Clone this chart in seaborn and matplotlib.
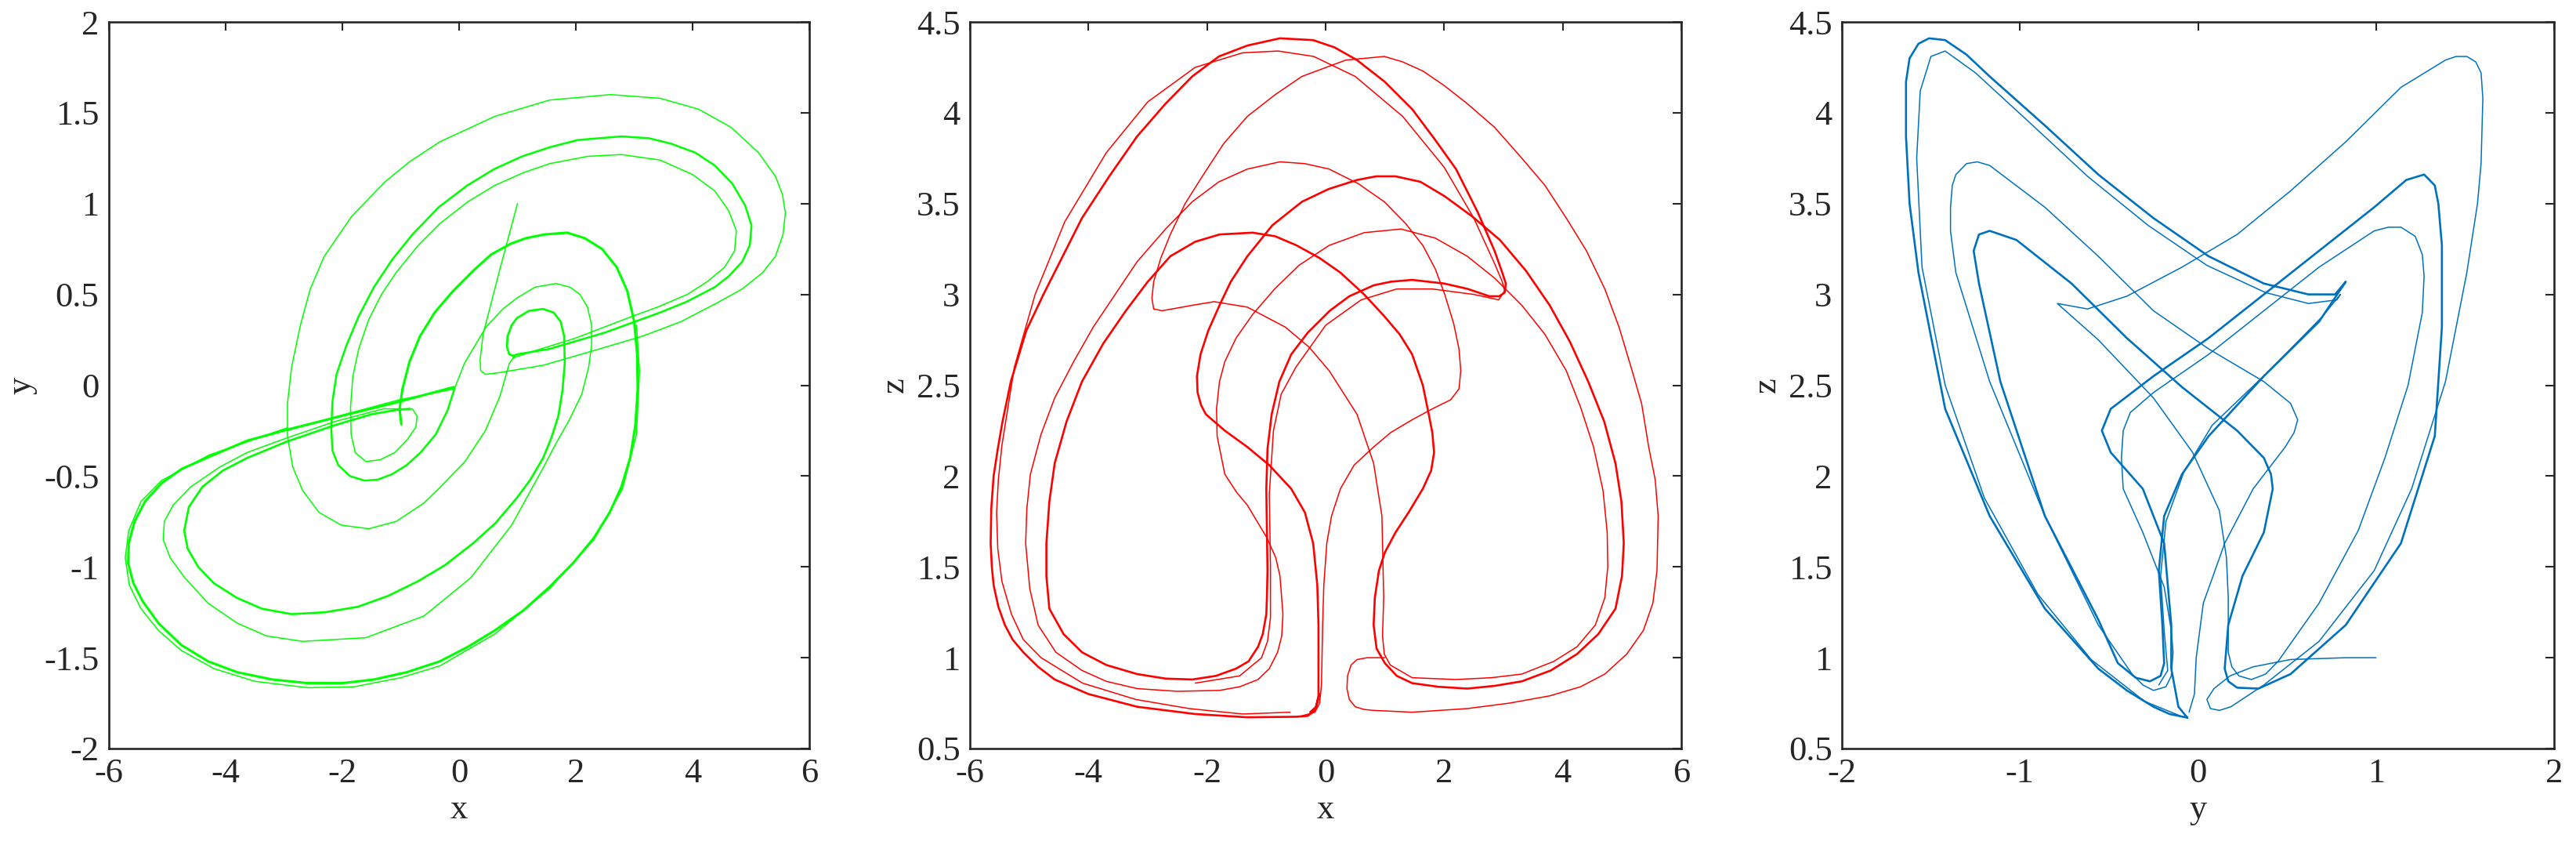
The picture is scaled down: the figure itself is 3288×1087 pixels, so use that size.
import matplotlib
matplotlib.use("Agg")
import matplotlib.pyplot as plt
import seaborn as sns
import pandas as pd


# ---- x-y projection (green) ----
XY_START = [
    (1.00, 1.00), (0.70, 0.64), (0.41, 0.28), (0.36, 0.14), (0.37, 0.08),
    (0.45, 0.06), (0.70, 0.07), (1.44, 0.11), (2.30, 0.19), (3.14, 0.27),
    (3.80, 0.35), (4.40, 0.45), (4.85, 0.53), (5.20, 0.62), (5.42, 0.71),
    (5.55, 0.83), (5.59, 0.95), (5.54, 1.05), (5.42, 1.15), (5.13, 1.28),
    (4.66, 1.42), (4.10, 1.52), (3.44, 1.58), (2.59, 1.60), (1.55, 1.57),
    (0.61, 1.48), (-0.33, 1.34), (-0.85, 1.23), (-1.27, 1.12), (-1.84, 0.93),
    (-2.31, 0.71), (-2.55, 0.53), (-2.72, 0.33), (-2.87, 0.10), (-2.94, -0.10),
    (-2.94, -0.28), (-2.85, -0.45), (-2.68, -0.58), (-2.40, -0.70), (-2.02, -0.77),
    (-1.55, -0.79), (-1.08, -0.75), (-0.61, -0.65), (-0.35, -0.57), (0.10, -0.42),
    (0.45, -0.25), (0.70, -0.06), (0.86, 0.12), (0.95, 0.16),
]
XY_RING = [
    (-2.95, -0.25), (-2.13, -0.175), (-1.02, -0.08), (-0.08, -0.02), (0.09, 0.12),
    (0.46, 0.32), (0.75, 0.42), (0.99, 0.48), (1.30, 0.54), (1.66, 0.56),
    (1.90, 0.54), (2.07, 0.50), (2.20, 0.43), (2.27, 0.33), (2.27, 0.22),
    (2.22, 0.10), (2.10, -0.05), (1.89, -0.19), (1.66, -0.32), (1.44, -0.455),
    (0.90, -0.77), (0.20, -1.06), (-0.60, -1.27), (-1.60, -1.39), (-2.68, -1.41),
    (-3.30, -1.38), (-3.80, -1.31), (-4.30, -1.20), (-4.70, -1.06), (-4.95, -0.95),
    (-5.07, -0.85), (-5.05, -0.75), (-4.90, -0.66), (-4.60, -0.56), (-4.10, -0.45),
    (-3.63, -0.37), (-2.95, -0.29), (-2.13, -0.20), (-1.30, -0.13), (-0.95, -0.13),
    (-0.80, -0.13), (-0.72, -0.17), (-0.74, -0.23), (-0.89, -0.30), (-1.10, -0.37),
    (-1.35, -0.41), (-1.60, -0.42), (-1.78, -0.37), (-1.85, -0.27), (-1.86, -0.12),
    (-1.82, 0.05), (-1.72, 0.20), (-1.55, 0.36), (-1.33, 0.50), (-1.08, 0.62),
    (-0.70, 0.77), (-0.33, 0.89), (0.15, 1.01), (0.61, 1.10), (1.10, 1.17),
    (1.55, 1.22), (2.20, 1.26), (2.78, 1.27), (3.44, 1.24), (4.00, 1.16),
    (4.38, 1.07), (4.62, 0.96), (4.75, 0.85), (4.72, 0.74), (4.55, 0.65),
    (4.25, 0.57), (3.91, 0.50), (3.40, 0.43), (2.97, 0.38), (2.00, 0.26),
    (1.20, 0.18), (0.92, 0.15),
]
XY_MIDDLE = [
    (-0.08, -0.02), (-0.20, -0.14), (-0.40, -0.27), (-0.66, -0.37), (-0.90, -0.44),
    (-1.15, -0.49), (-1.40, -0.52), (-1.62, -0.525), (-1.87, -0.50), (-2.07, -0.44),
    (-2.17, -0.36), (-2.19, -0.24), (-2.17, -0.09), (-2.10, 0.06), (-1.93, 0.22),
    (-1.72, 0.38), (-1.46, 0.54), (-1.15, 0.69), (-0.80, 0.83), (-0.35, 0.98),
    (0.14, 1.10), (0.60, 1.19), (1.08, 1.26), (1.55, 1.31), (2.03, 1.35),
    (2.78, 1.37), (3.25, 1.36), (3.63, 1.33), (4.05, 1.28), (4.38, 1.21),
    (4.68, 1.11), (4.90, 0.99), (5.01, 0.88), (4.98, 0.77), (4.85, 0.68),
    (4.62, 0.60), (4.38, 0.54), (3.90, 0.46), (3.44, 0.40), (2.50, 0.29),
    (1.55, 0.20), (0.99, 0.17), (0.92, 0.16),
]
XY_OUTER = [
    (-0.09, -0.01), (-1.08, -0.095), (-1.84, -0.155), (-2.95, -0.245), (-3.63, -0.305),
    (-4.29, -0.395), (-4.75, -0.46), (-5.10, -0.54), (-5.38, -0.64), (-5.56, -0.75),
    (-5.66, -0.87), (-5.67, -0.98), (-5.58, -1.09), (-5.42, -1.19), (-5.15, -1.31),
    (-4.76, -1.43), (-4.30, -1.52), (-3.80, -1.58), (-3.20, -1.62), (-2.59, -1.64),
    (-2.00, -1.64), (-1.46, -1.62), (-0.90, -1.58), (-0.33, -1.52), (0.15, -1.44),
    (0.61, -1.35), (1.10, -1.24), (1.55, -1.11), (1.95, -0.98), (2.31, -0.84),
    (2.58, -0.70), (2.78, -0.56), (2.93, -0.40), (3.02, -0.22), (3.06, -0.02),
    (3.05, 0.17), (3.00, 0.35), (2.88, 0.52), (2.70, 0.65), (2.45, 0.75),
    (2.15, 0.81), (1.85, 0.84), (1.46, 0.83), (1.15, 0.81), (0.89, 0.78),
    (0.55, 0.72), (0.24, 0.63), (-0.10, 0.52), (-0.42, 0.40), (-0.67, 0.27),
    (-0.85, 0.13), (-0.97, -0.02), (-1.02, -0.13), (-0.99, -0.215),
]
XY_OUTER_EDGE = [
    (-2.95, -0.235), (-4.29, -0.385), (-5.10, -0.525), (-5.45, -0.64), (-5.66, -0.80),
    (-5.72, -0.95), (-5.65, -1.10), (-5.45, -1.23), (-5.15, -1.35), (-4.76, -1.46),
    (-4.20, -1.56), (-3.50, -1.63), (-2.59, -1.665), (-1.80, -1.66), (-1.00, -1.61),
    (-0.33, -1.545), (0.61, -1.37), (1.55, -1.12), (2.31, -0.85), (2.80, -0.57),
    (3.04, -0.27), (3.09, 0.08), (3.04, 0.33),
]
XY_INNER = [
    (0.95, 0.16), (0.86, 0.17), (0.82, 0.21), (0.83, 0.27), (0.90, 0.33),
    (0.99, 0.37), (1.20, 0.41), (1.44, 0.42), (1.62, 0.40), (1.74, 0.35),
    (1.80, 0.27), (1.81, 0.12), (1.77, -0.03), (1.70, -0.17), (1.58, -0.29),
    (1.44, -0.40), (1.22, -0.52), (0.99, -0.62), (0.62, -0.76), (0.24, -0.87),
    (-0.24, -0.99), (-0.71, -1.08), (-1.22, -1.16), (-1.74, -1.22), (-2.30, -1.25),
    (-2.87, -1.26), (-3.38, -1.23), (-3.81, -1.17), (-4.20, -1.09), (-4.47, -1.00),
    (-4.65, -0.90), (-4.71, -0.80), (-4.63, -0.67), (-4.40, -0.56), (-4.05, -0.47),
    (-3.63, -0.40), (-2.95, -0.31), (-2.13, -0.22), (-1.50, -0.16), (-1.06, -0.135),
    (-0.84, -0.13),
]

# ---- x-z projection (red) ----
XZ_START = [
    (1.00, 1.00), (0.90, 1.00), (0.70, 1.00), (0.53, 0.99), (0.43, 0.96),
    (0.37, 0.90), (0.36, 0.83), (0.40, 0.77), (0.50, 0.73), (0.65, 0.715),
    (0.81, 0.71), (1.46, 0.70), (2.39, 0.72), (3.10, 0.75), (3.78, 0.79),
    (4.30, 0.84), (4.71, 0.91), (5.08, 1.02), (5.36, 1.15), (5.52, 1.30),
    (5.59, 1.48), (5.61, 1.78), (5.56, 1.98), (5.45, 2.16), (5.33, 2.40),
    (5.17, 2.58), (4.95, 2.82), (4.71, 3.03), (4.40, 3.24), (4.06, 3.42),
    (3.70, 3.60), (3.31, 3.75), (2.85, 3.92), (2.39, 4.05), (2.00, 4.15),
    (1.64, 4.23), (1.30, 4.28), (0.99, 4.31), (0.34, 4.29), (-0.40, 4.20),
    (-0.85, 4.10), (-1.32, 3.98), (-1.72, 3.83), (-2.06, 3.66), (-2.37, 3.50),
    (-2.62, 3.33), (-2.78, 3.20), (-2.90, 3.07), (-2.93, 2.98), (-2.90, 2.92),
    (-2.76, 2.91), (-2.25, 2.94), (-1.88, 2.96), (-1.32, 2.93), (-0.68, 2.82),
    (-0.28, 2.71), (0.06, 2.58), (0.53, 2.34), (0.81, 2.07), (0.95, 1.78),
    (0.98, 1.33), (0.96, 1.12), (0.99, 1.02), (1.09, 0.96), (1.46, 0.89),
    (2.20, 0.88), (2.80, 0.89), (3.31, 0.91), (3.85, 0.98), (4.24, 1.06),
    (4.55, 1.18), (4.71, 1.33), (4.76, 1.50), (4.75, 1.69), (4.68, 1.92),
    (4.52, 2.16), (4.30, 2.38), (4.06, 2.58), (3.70, 2.78), (3.31, 2.94),
    (2.85, 3.09), (2.39, 3.21), (1.85, 3.31), (1.27, 3.36), (0.65, 3.34),
    (0.06, 3.27), (-0.45, 3.16), (-0.86, 3.03), (-1.23, 2.89), (-1.51, 2.76),
    (-1.70, 2.63), (-1.79, 2.52), (-1.84, 2.37), (-1.83, 2.22), (-1.70, 2.01),
    (-1.50, 1.91), (-1.32, 1.84), (-0.99, 1.66), (-0.84, 1.55), (-0.77, 1.45),
    (-0.72, 1.24), (-0.74, 1.12), (-0.81, 1.03), (-0.95, 0.94), (-1.14, 0.88),
    (-1.45, 0.84), (-1.79, 0.82), (-2.50, 0.815), (-3.18, 0.83), (-3.70, 0.87),
    (-4.11, 0.93), (-4.55, 1.03), (-4.85, 1.18), (-4.99, 1.38), (-5.06, 1.63),
    (-5.04, 1.82), (-4.98, 2.01), (-4.80, 2.23), (-4.57, 2.43), (-4.25, 2.63),
    (-3.92, 2.82), (-3.55, 3.00), (-3.18, 3.18), (-2.70, 3.36), (-2.25, 3.51),
    (-1.80, 3.62), (-1.32, 3.69), (-0.77, 3.73), (-0.35, 3.72), (0.06, 3.69),
    (0.55, 3.61), (0.99, 3.51), (1.35, 3.39), (1.64, 3.27), (1.85, 3.14),
    (2.01, 3.00), (2.16, 2.84), (2.25, 2.70), (2.28, 2.58), (2.25, 2.48),
    (2.11, 2.42), (1.80, 2.37), (1.46, 2.31), (1.10, 2.24), (0.81, 2.16),
    (0.48, 2.06), (0.25, 1.93), (0.10, 1.78), (0.02, 1.63), (-0.03, 1.40),
    (-0.05, 1.18), (-0.07, 0.85), (-0.10, 0.75), (-0.18, 0.70), (-0.40, 0.68),
]
XZ_BUNDLE = [
    (-0.10, 0.80), (-0.18, 0.71), (-0.30, 0.68), (-0.50, 0.675), (-1.32, 0.672),
    (-2.20, 0.69), (-3.18, 0.73), (-4.00, 0.80), (-4.57, 0.88), (-4.85, 0.95),
    (-5.10, 1.03), (-5.28, 1.10), (-5.41, 1.18), (-5.52, 1.28), (-5.60, 1.40),
    (-5.63, 1.50), (-5.65, 1.63), (-5.64, 1.82), (-5.60, 2.00), (-5.53, 2.15),
    (-5.45, 2.30), (-5.31, 2.52), (-5.05, 2.80), (-4.76, 3.00), (-4.45, 3.20),
    (-4.11, 3.42), (-3.65, 3.65), (-3.18, 3.87), (-2.70, 4.05), (-2.25, 4.20),
    (-1.80, 4.31), (-1.32, 4.37), (-0.77, 4.41), (-0.21, 4.40), (0.15, 4.36),
    (0.53, 4.29), (1.00, 4.17), (1.46, 4.02), (1.85, 3.85), (2.20, 3.69),
    (2.57, 3.45), (2.85, 3.24), (2.98, 3.12), (3.04, 3.06), (3.02, 3.01),
    (2.93, 2.99), (2.76, 2.99), (2.40, 3.03), (2.00, 3.06), (1.46, 3.08),
    (1.10, 3.07), (0.81, 3.05), (0.40, 2.99), (0.07, 2.91), (-0.30, 2.79),
    (-0.58, 2.67), (-0.78, 2.52), (-0.91, 2.34), (-0.98, 2.15), (-1.00, 1.93),
    (-0.98, 1.48), (-0.99, 1.33), (-1.00, 1.24), (-1.06, 1.13), (-1.14, 1.06),
    (-1.30, 0.98), (-1.51, 0.94), (-1.85, 0.90), (-2.25, 0.88), (-2.70, 0.885),
    (-3.18, 0.91), (-3.70, 0.96), (-4.11, 1.03), (-4.42, 1.13), (-4.66, 1.27),
    (-4.71, 1.45), (-4.71, 1.63), (-4.66, 1.86), (-4.57, 2.07), (-4.37, 2.30),
    (-4.11, 2.52), (-3.75, 2.73), (-3.37, 2.91), (-3.00, 3.07), (-2.62, 3.21),
    (-2.20, 3.29), (-1.79, 3.33), (-1.23, 3.34), (-0.85, 3.32), (-0.49, 3.27),
    (-0.10, 3.20), (0.25, 3.12), (0.65, 3.00), (0.99, 2.88), (1.25, 2.78),
    (1.46, 2.67), (1.64, 2.50), (1.74, 2.34), (1.80, 2.24), (1.83, 2.13),
    (1.78, 2.03), (1.64, 1.93), (1.40, 1.80), (1.18, 1.69), (1.00, 1.58),
    (0.90, 1.48), (0.83, 1.33), (0.81, 1.18), (0.86, 1.05), (1.00, 0.97),
    (1.20, 0.90), (1.46, 0.86), (1.90, 0.84), (2.39, 0.83), (2.85, 0.845),
    (3.31, 0.87), (3.80, 0.93), (4.24, 1.02), (4.60, 1.13), (4.89, 1.27),
    (5.00, 1.45), (5.03, 1.63), (4.99, 1.86), (4.89, 2.07), (4.70, 2.30),
    (4.43, 2.52), (4.12, 2.74), (3.78, 2.94), (3.38, 3.13), (2.94, 3.30),
    (2.47, 3.43), (2.01, 3.54), (1.60, 3.62), (1.18, 3.65), (0.85, 3.65),
    (0.53, 3.63), (0.05, 3.58), (-0.40, 3.51), (-0.90, 3.38), (-1.32, 3.21),
    (-1.60, 3.07), (-1.79, 2.94), (-1.98, 2.80), (-2.11, 2.67), (-2.17, 2.55),
    (-2.16, 2.46), (-2.10, 2.39), (-2.02, 2.34), (-1.70, 2.25), (-1.32, 2.16),
    (-0.95, 2.06), (-0.58, 1.93), (-0.35, 1.80), (-0.21, 1.63), (-0.14, 1.40),
    (-0.12, 1.18), (-0.12, 0.79), (-0.16, 0.73), (-0.26, 0.70),
]
XZ_INNER = [
    (-0.60, 0.70), (-1.40, 0.69), (-2.30, 0.72), (-3.20, 0.77), (-4.10, 0.86),
    (-4.80, 1.00), (-5.10, 1.10), (-5.30, 1.24), (-5.46, 1.42), (-5.53, 1.60),
    (-5.55, 1.80), (-5.52, 1.98), (-5.46, 2.17), (-5.25, 2.60), (-4.90, 3.00),
    (-4.40, 3.40), (-3.70, 3.78), (-3.00, 4.06), (-2.20, 4.25), (-1.40, 4.33),
    (-0.80, 4.34), (-0.20, 4.31), (0.50, 4.20), (1.30, 3.98), (2.00, 3.70),
    (2.50, 3.42), (2.85, 3.17), (2.98, 3.07), (3.02, 3.02), (2.92, 2.97),
    (2.50, 3.00), (1.80, 3.03), (1.20, 3.03), (0.60, 2.97), (0.00, 2.83),
    (-0.50, 2.60), (-0.75, 2.45), (-0.88, 2.25), (-0.95, 1.90), (-0.93, 1.50),
    (-0.93, 1.22), (-0.98, 1.09), (-1.08, 1.00), (-1.45, 0.90), (-2.20, 0.86),
]

# ---- y-z projection (blue) ----
YZ_START = [
    (1.00, 1.00), (0.83, 1.00), (0.52, 0.99), (0.31, 0.95), (0.18, 0.90),
    (0.09, 0.83), (0.05, 0.77), (0.07, 0.72), (0.12, 0.71), (0.185, 0.73),
    (0.37, 0.85), (0.68, 1.09), (0.99, 1.48), (1.20, 1.93), (1.39, 2.52),
    (1.51, 3.12), (1.57, 3.50), (1.59, 3.72), (1.60, 4.08), (1.59, 4.22),
    (1.56, 4.28), (1.51, 4.31), (1.45, 4.31), (1.39, 4.29), (1.14, 4.14),
    (0.83, 3.84), (0.52, 3.57), (0.22, 3.33), (-0.09, 3.15), (-0.40, 2.99),
    (-0.62, 2.92), (-0.79, 2.95), (-0.56, 2.75), (-0.25, 2.43), (-0.03, 2.13),
    (0.12, 1.81), (0.16, 1.55), (0.17, 1.33), (0.17, 1.03), (0.19, 0.95),
    (0.23, 0.90), (0.30, 0.88), (0.38, 0.91), (0.45, 0.98), (0.68, 1.30),
    (0.90, 1.70), (1.05, 2.10), (1.18, 2.50), (1.26, 2.90), (1.27, 3.10),
    (1.26, 3.22), (1.22, 3.32), (1.14, 3.37), (1.07, 3.37), (0.99, 3.35),
    (0.68, 3.15), (0.37, 2.91), (0.06, 2.67), (-0.25, 2.46), (-0.38, 2.35),
    (-0.42, 2.25), (-0.43, 2.10), (-0.42, 1.93), (-0.31, 1.69), (-0.19, 1.39),
    (-0.15, 1.15), (-0.14, 1.03), (-0.15, 0.90), (-0.18, 0.84), (-0.25, 0.82),
    (-0.31, 0.85), (-0.37, 0.91), (-0.56, 1.18), (-0.86, 1.78), (-1.17, 2.52),
    (-1.36, 3.12), (-1.39, 3.35), (-1.39, 3.48), (-1.38, 3.60), (-1.36, 3.66),
    (-1.30, 3.72), (-1.24, 3.73), (-1.17, 3.71), (-0.86, 3.48), (-0.56, 3.21),
    (-0.25, 2.91), (0.06, 2.70), (0.37, 2.52), (0.52, 2.40), (0.56, 2.31),
    (0.54, 2.24), (0.49, 2.16), (0.31, 1.93), (0.15, 1.63), (0.03, 1.30),
    (-0.01, 1.00), (-0.02, 0.80), (-0.05, 0.70),
]
YZ_BUNDLE = [
    (-0.06, 0.67), (-0.16, 0.69), (-0.25, 0.73), (-0.40, 0.82), (-0.56, 0.94),
    (-0.86, 1.27), (-1.17, 1.78), (-1.42, 2.37), (-1.57, 3.12), (-1.62, 3.50),
    (-1.64, 3.87), (-1.64, 4.17), (-1.62, 4.30), (-1.57, 4.38), (-1.51, 4.41),
    (-1.42, 4.40), (-1.30, 4.32), (-1.17, 4.20), (-0.86, 3.93), (-0.56, 3.66),
    (-0.25, 3.42), (0.06, 3.21), (0.37, 3.06), (0.62, 3.00), (0.77, 3.00),
    (0.83, 3.07), (0.68, 2.85), (0.37, 2.55), (0.06, 2.22), (-0.09, 2.01),
    (-0.19, 1.78), (-0.22, 1.48), (-0.20, 1.18), (-0.19, 0.97), (-0.21, 0.90),
    (-0.27, 0.87), (-0.35, 0.89), (-0.45, 0.97), (-0.56, 1.21), (-0.86, 1.78),
    (-1.11, 2.52), (-1.23, 3.06), (-1.26, 3.24), (-1.23, 3.33), (-1.17, 3.35),
    (-1.02, 3.30), (-0.71, 3.06), (-0.40, 2.76), (-0.09, 2.49), (0.22, 2.25),
    (0.37, 2.10), (0.41, 2.01), (0.42, 1.93), (0.37, 1.69), (0.25, 1.45),
    (0.17, 1.18), (0.15, 0.94), (0.17, 0.87), (0.22, 0.835), (0.34, 0.83),
    (0.52, 0.91), (0.83, 1.18), (1.14, 1.63), (1.33, 2.22), (1.37, 2.82),
    (1.37, 3.27), (1.35, 3.50), (1.33, 3.60), (1.27, 3.66), (1.17, 3.63),
    (0.99, 3.48), (0.68, 3.24), (0.37, 3.00), (0.06, 2.76), (-0.25, 2.55),
    (-0.49, 2.37), (-0.54, 2.25), (-0.49, 2.13), (-0.31, 1.93), (-0.19, 1.63),
    (-0.15, 1.18), (-0.15, 0.94), (-0.11, 0.73), (-0.06, 0.67),
]
YZ_INNER = [
    (-0.10, 0.68), (-0.30, 0.76), (-0.60, 0.99), (-0.90, 1.35), (-1.20, 1.88),
    (-1.42, 2.50), (-1.55, 3.15), (-1.58, 3.75), (-1.56, 4.12), (-1.50, 4.31),
    (-1.42, 4.34), (-1.25, 4.22), (-0.95, 3.95), (-0.62, 3.65), (-0.28, 3.38),
    (0.05, 3.16), (0.38, 3.01), (0.62, 2.95), (0.78, 2.97), (0.80, 3.00),
    (0.70, 2.88), (0.40, 2.58), (0.08, 2.28), (-0.08, 2.02), (-0.18, 1.75),
    (-0.21, 1.45), (-0.19, 1.15), (-0.17, 0.93), (-0.22, 0.85),
]

X_TICKS = [-6, -4, -2, 0, 2, 4, 6]
Y_TICKS = [-2, -1.5, -1, -0.5, 0, 0.5, 1, 1.5, 2]
Z_TICKS = [0.5, 1, 1.5, 2, 2.5, 3, 3.5, 4, 4.5]
Y_TICKS_WIDE = [-2, -1, 0, 1, 2]

GREEN = "#00ff00"
RED = "#ff0000"
BLUE = "#0072bd"
INK = "#262626"


def tick_text(value):
    return f"{value:g}"


def draw_stroke(ax, points, color, width):
    frame = pd.DataFrame(points, columns=["u", "v"])
    sns.lineplot(
        data=frame, x="u", y="v", sort=False, estimator=None,
        color=color, linewidth=width, ax=ax,
    )


def style_axes(ax, xlim, ylim, xticks, yticks, xlabel, ylabel):
    ax.set_xlim(*xlim)
    ax.set_ylim(*ylim)
    ax.set_xticks(xticks)
    ax.set_yticks(yticks)
    ax.set_xticklabels([tick_text(t) for t in xticks])
    ax.set_yticklabels([tick_text(t) for t in yticks])
    ax.set_xlabel(xlabel, fontsize=32, color=INK, labelpad=4)
    ax.set_ylabel(ylabel, fontsize=32, color=INK, labelpad=6)
    ax.tick_params(
        direction="in", length=8, width=1.5, top=True, right=True,
        labelsize=32, pad=9, colors=INK,
    )
    for spine in ax.spines.values():
        spine.set_linewidth(1.9)
        spine.set_color(INK)
        spine.set_visible(True)


sns.set_style("white")
plt.rcParams["font.family"] = ["Liberation Serif", "DejaVu Serif"]
plt.rcParams["axes.unicode_minus"] = False

fig = plt.figure(figsize=(32.88, 10.87), dpi=100)
bottom = 1 - 955 / 1087
height = 927 / 1087
ax1 = fig.add_axes([139 / 3288, bottom, 894 / 3288, height])
ax2 = fig.add_axes([1238 / 3288, bottom, 908 / 3288, height])
ax3 = fig.add_axes([2351 / 3288, bottom, 909 / 3288, height])

thin = 1.1
for pts, lw in [(XY_START, thin), (XY_RING, thin), (XY_MIDDLE, 1.8),
                (XY_OUTER, 2.2), (XY_OUTER_EDGE, thin), (XY_INNER, 1.9)]:
    draw_stroke(ax1, pts, GREEN, lw)
style_axes(ax1, (-6, 6), (-2, 2), X_TICKS, Y_TICKS, "x", "y")

for pts, lw in [(XZ_START, thin), (XZ_BUNDLE, 1.9), (XZ_INNER, thin)]:
    draw_stroke(ax2, pts, RED, lw)
style_axes(ax2, (-6, 6), (0.5, 4.5), X_TICKS, Z_TICKS, "x", "z")

for pts, lw in [(YZ_START, thin), (YZ_BUNDLE, 1.9), (YZ_INNER, thin)]:
    draw_stroke(ax3, pts, BLUE, lw)
style_axes(ax3, (-2, 2), (0.5, 4.5), Y_TICKS_WIDE, Z_TICKS, "y", "z")

fig.savefig("out.png", dpi=100, facecolor="white")
